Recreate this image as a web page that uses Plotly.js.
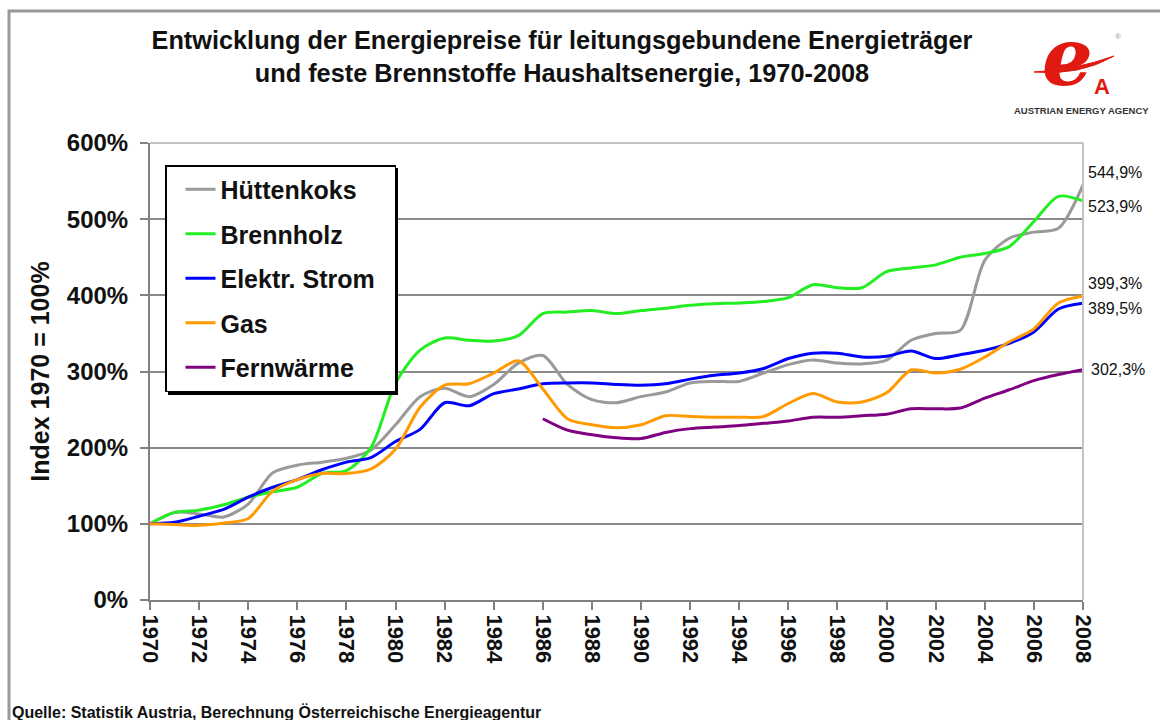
<!DOCTYPE html>
<html>
<head>
<meta charset="utf-8">
<script src="https://cdn.plot.ly/plotly-3.0.1.min.js"></script>
<style>
  html, body { margin: 0; padding: 0; background: #ffffff; }
  #chart { width: 1160px; height: 720px; }
</style>
</head>
<body>
<div id="chart"></div>
<script>
// Energy price index, Austria 1970-2008 (1970 = 100%)
const years = [];
for (let y = 1970; y <= 2008; y++) years.push(y);

const huettenkoks = [100, 115, 113, 109, 126, 167, 177, 181, 186, 197,
                     230, 267, 278, 267, 283, 311, 321, 283, 263, 259,
                     267, 273, 285, 287, 287, 298, 309, 315, 311, 310,
                     315, 341, 350, 354, 446, 475, 483, 488, 544.9];
const brennholz = [100, 115, 118, 125, 135, 142, 148, 166, 170, 200,
                   285, 328, 344, 341, 340, 347, 376, 378, 380, 376,
                   380, 383, 387, 389, 390, 392, 397, 414, 410, 410,
                   431, 436, 440, 450, 455, 464, 497, 530, 523.9];
const strom = [100, 102, 110, 119, 135, 148, 158, 171, 181, 187,
               208, 224, 259, 255, 271, 277, 284, 285, 285, 283,
               282, 284, 290, 295, 298, 304, 317, 324, 324, 319,
               320, 327, 317, 322, 328, 337, 352, 382, 389.5];
const gas = [100, 99, 98, 101, 107, 143, 158, 166, 166, 172,
             198, 253, 282, 284, 298, 314, 277, 238, 230, 226,
             230, 242, 241, 240, 240, 241, 258, 271, 260, 260,
             272, 302, 298, 303, 319, 339, 356, 390, 399.3];
const fernwaerme = [null, null, null, null, null, null, null, null, null, null,
                    null, null, null, null, null, null, 238, 223, 217, 213,
                    212, 220, 225, 227, 229, 232, 235, 240, 240, 242,
                    244, 251, 251, 252, 265, 276, 288, 296, 302.3];

const seriesNames = ['Hüttenkoks', 'Brennholz', 'Elektr. Strom', 'Gas', 'Fernwärme'];
const seriesValues = [huettenkoks, brennholz, strom, gas, fernwaerme];
const seriesColors = ['#9a9a9a', '#22ee22', '#0000ff', '#ff9a00', '#800080'];

// where the end labels sit (y in data units) so they don't overlap
const endLabelY = [561, 516, 383, 416, 303];

const FONT = 'Liberation Sans, Arial, sans-serif';

// plot area in page pixels
const PL = 150, PR = 1083, PT = 143, PB = 600;
const px = x => (x - PL) / (PR - PL);
const py = y => (PB - y) / (PB - PT);

// the legend box is a bit wider than its longest entry -> pad that one
const legendPad = '\u00a0\u00a0';

const traces = seriesNames.map((name, i) => ({
    x: years,
    y: seriesValues[i],
    name: i === 2 ? name + legendPad : name,
    legendgroup: 'g' + i,
    type: 'scatter',
    mode: 'lines',
    connectgaps: false,
    line: { color: seriesColors[i], width: 3, shape: 'spline', smoothing: 0.8 },
    hovertemplate: '%{x}: %{y:.1f}%<extra>' + name + '</extra>'
}));

const fmt = v => v.toFixed(1).replace('.', ',') + '%';

const annotations = seriesNames.map((name, i) => {
    const vals = seriesValues[i];
    return {
        x: years[years.length - 1], y: endLabelY[i],
        xref: 'x', yref: 'y',
        text: fmt(vals[vals.length - 1]),
        showarrow: false, xanchor: 'left', yanchor: 'middle',
        xshift: i === 4 ? 6 : 3,
        font: { family: FONT, size: 16, color: '#111' }
    };
});

// source line
annotations.push({
    x: px(10), y: py(712), xref: 'paper', yref: 'paper',
    text: 'Quelle: Statistik Austria, Berechnung Österreichische Energieagentur',
    showarrow: false, xanchor: 'left', yanchor: 'middle',
    font: { family: 'Liberation Sans Narrow, Arial Narrow, sans-serif', size: 16, weight: 'bold', color: '#111' }
});

// logo (Austrian Energy Agency)
annotations.push({
    x: px(1067), y: py(57), xref: 'paper', yref: 'paper', text: 'e',
    showarrow: false, xanchor: 'center', yanchor: 'middle',
    font: { family: 'DejaVu Serif, serif', size: 80, weight: 'bold', style: 'italic', color: '#e01a10' }
});
annotations.push({
    x: px(1102), y: py(86), xref: 'paper', yref: 'paper', text: 'A',
    showarrow: false, xanchor: 'center', yanchor: 'middle',
    font: { family: FONT, size: 22, weight: 'bold', color: '#e01a10' }
});
annotations.push({
    x: px(1118), y: py(37), xref: 'paper', yref: 'paper', text: '®',
    showarrow: false, xanchor: 'center', yanchor: 'middle',
    font: { family: FONT, size: 8, color: '#999' }
});
annotations.push({
    x: px(1081), y: py(110), xref: 'paper', yref: 'paper', text: 'AUSTRIAN ENERGY AGENCY',
    showarrow: false, xanchor: 'center', yanchor: 'middle',
    font: { family: 'Liberation Sans Narrow, Arial Narrow, sans-serif', size: 9.5, weight: 'bold', color: '#333' }
});

const shapes = [
    // outer frame of the picture
    { type: 'rect', xref: 'paper', yref: 'paper', x0: px(9), x1: px(1170), y0: py(730), y1: py(11),
      line: { color: '#999', width: 3 }, layer: 'below' },
    // light top / right frame of the plot
    { type: 'line', xref: 'paper', yref: 'paper', x0: 0, x1: 1, y0: 1, y1: 1,
      line: { color: '#c4c4c4', width: 2 }, layer: 'above' },
    { type: 'line', xref: 'paper', yref: 'paper', x0: 1, x1: 1, y0: 0, y1: 1,
      line: { color: '#c4c4c4', width: 2 }, layer: 'above' },
    // legend drop shadow
    { type: 'rect', xref: 'paper', yref: 'paper', x0: px(168), x1: px(398), y0: py(395), y1: py(168),
      fillcolor: '#000', line: { width: 0 }, layer: 'above' },
    // logo swoosh
    { type: 'path', xref: 'paper', yref: 'paper',
      path: `M ${px(1034)},${py(72)} Q ${px(1075)},${py(70)} ${px(1114)},${py(56)} Q ${px(1080)},${py(76)} ${px(1034)},${py(72)} Z`,
      fillcolor: '#e01a10', line: { color: '#e01a10', width: 1 }, layer: 'above' }
];

const layout = {
    width: 1160,
    height: 720,
    margin: { l: PL, r: 1160 - PR, t: PT, b: 720 - PB },
    paper_bgcolor: '#ffffff',
    plot_bgcolor: '#ffffff',
    font: { family: FONT, color: '#111' },
    title: {
        text: 'Entwicklung der Energiepreise für leitungsgebundene Energieträger<br>und feste Brennstoffe Haushaltsenergie, 1970-2008',
        font: { family: FONT, size: 25.3, weight: 'bold', color: '#111' },
        xref: 'paper', x: px(562), xanchor: 'center',
        yref: 'container', y: 1 - 49 / 720, yanchor: 'top'
    },
    showlegend: true,
    legend: {
        x: px(165), y: py(165), xanchor: 'left', yanchor: 'top',
        bgcolor: '#ffffff', bordercolor: '#000', borderwidth: 1.5,
        font: { family: FONT, size: 25, weight: 'bold', color: '#111' },
        traceorder: 'grouped', tracegroupgap: 9,
        indentation: 14,
        itemwidth: 30
    },
    xaxis: {
        range: [1970, 2008],
        tickmode: 'linear', tick0: 1970, dtick: 2,
        tickangle: 90,
        ticks: 'outside', ticklen: 8, tickcolor: '#808080', tickwidth: 1.5,
        showline: true, linecolor: '#808080', linewidth: 2,
        showgrid: false, zeroline: false,
        tickfont: { family: FONT, size: 22, weight: 'bold', color: '#111' }
    },
    yaxis: {
        range: [0, 600],
        tickmode: 'linear', tick0: 0, dtick: 100,
        ticksuffix: '%',
        ticks: 'outside', ticklen: 8, tickcolor: '#808080', tickwidth: 1.5,
        ticklabelstandoff: 7,
        showline: true, linecolor: '#808080', linewidth: 2,
        showgrid: true, gridcolor: '#8a8a8a', gridwidth: 2,
        zeroline: false,
        tickfont: { family: FONT, size: 24, weight: 'bold', color: '#111' },
        title: {
            text: 'Index 1970 = 100%',
            font: { family: FONT, size: 25, weight: 'bold', color: '#111' },
            standoff: 10
        }
    },
    annotations: annotations,
    shapes: shapes
};

Plotly.newPlot('chart', traces, layout, { displayModeBar: false, responsive: false });
</script>
</body>
</html>
